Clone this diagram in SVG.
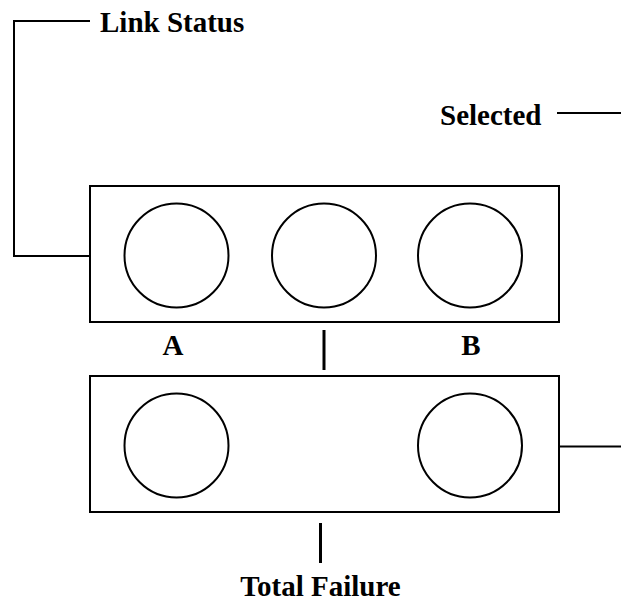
<svg xmlns="http://www.w3.org/2000/svg" width="621" height="601" viewBox="0 0 621 601">
<style>
.box{fill:#fff;stroke:#000;stroke-width:2}
.led{fill:#fff;stroke:#000;stroke-width:2}
.ln{fill:none;stroke:#000;stroke-width:2}
.tick{fill:none;stroke:#000;stroke-width:3}
.t{font-family:"Liberation Serif","Times New Roman",serif;font-weight:bold;font-size:29px;fill:#000}
</style>
<rect width="621" height="601" fill="#fff"/>
<g id="connectors">
<polyline class="ln" points="90,21 14,21 14,256 90,256"/>
<line class="ln" x1="557" y1="113" x2="621" y2="113"/>
<line class="ln" x1="559" y1="446.5" x2="621" y2="446.5"/>
<line class="tick" x1="324" y1="330" x2="324" y2="370"/>
<line class="tick" x1="320.5" y1="523" x2="320.5" y2="563"/>
</g>
<g id="top-panel">
<rect class="box" x="90" y="186" width="469" height="136"/>
<circle class="led" cx="176.5" cy="255.5" r="52"/>
<circle class="led" cx="324" cy="255.5" r="52"/>
<circle class="led" cx="470" cy="255.5" r="52"/>
</g>
<g id="bottom-panel">
<rect class="box" x="90" y="376" width="469" height="136"/>
<circle class="led" cx="176.5" cy="445.5" r="52"/>
<circle class="led" cx="470" cy="445.5" r="52"/>
</g>
<g id="label-link-status"><text class="t" x="100" y="32">Link Status</text></g>
<g id="label-selected"><text class="t" x="440" y="125">Selected</text></g>
<g id="label-a"><text class="t" x="173" y="355" text-anchor="middle">A</text></g>
<g id="label-b"><text class="t" x="471" y="355" text-anchor="middle">B</text></g>
<g id="label-total-failure"><text class="t" x="320.5" y="596" text-anchor="middle">Total Failure</text></g>
</svg>
